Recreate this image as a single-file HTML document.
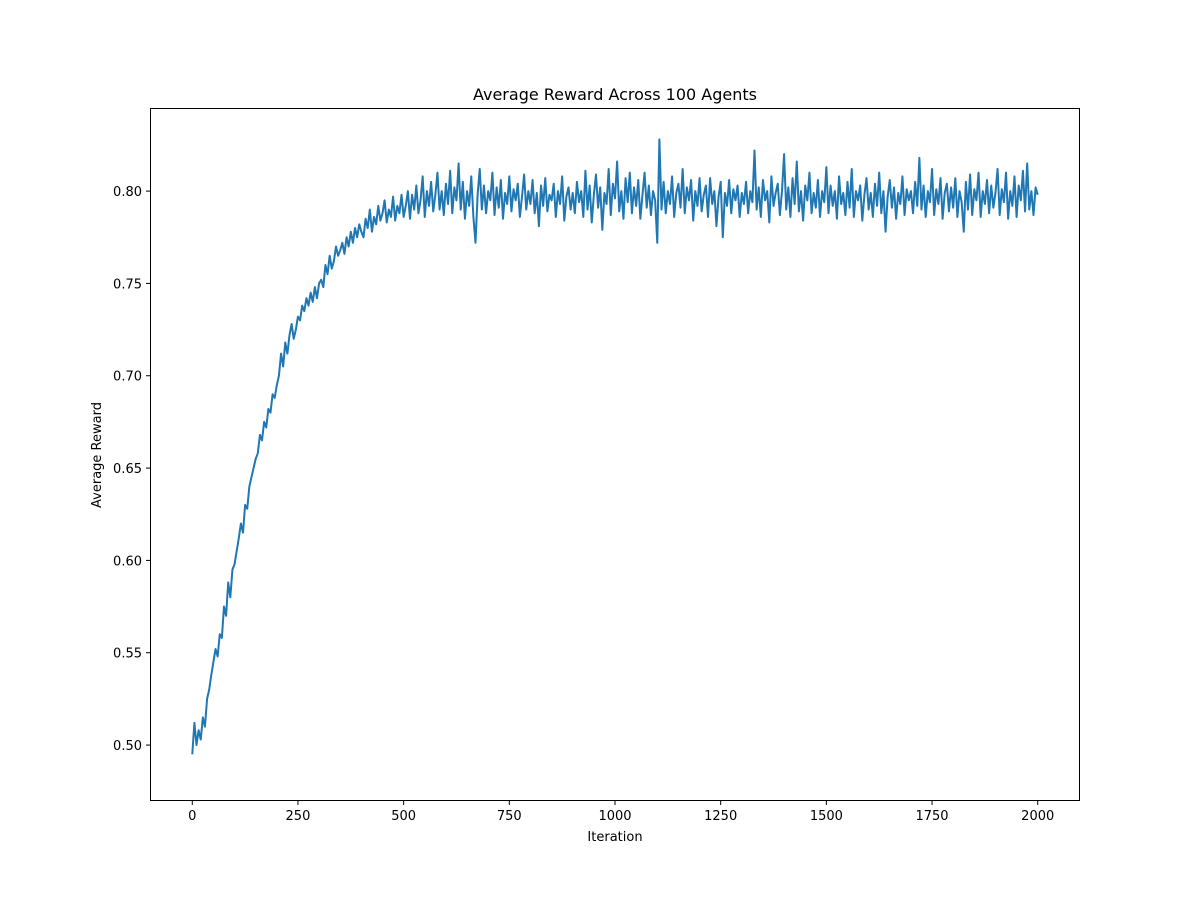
<!DOCTYPE html>
<html>
<head>
<meta charset="utf-8">
<style>
html,body{margin:0;padding:0;background:#fff;}
svg{display:block;font-family:"DejaVu Sans","Liberation Sans",sans-serif;}
</style>
</head>
<body>
<svg id="chart" width="1200" height="900" viewBox="0 0 1200 900" xmlns="http://www.w3.org/2000/svg">
<rect x="0" y="0" width="1200" height="900" fill="#fff"/>
<text x="615" y="100" font-size="16" text-anchor="middle">Average Reward Across 100 Agents</text>
<text x="615" y="841" font-size="13" text-anchor="middle">Iteration</text>
<text x="101" y="455" font-size="13" text-anchor="middle" transform="rotate(-90 101 455)">Average Reward</text>
<g id="xticks"></g>
<g id="yticks"></g>
<g id="plot"></g>
<rect x="150.5" y="108.5" width="929" height="692" fill="none" stroke="#000" stroke-width="1"/>
</svg>
<script>
const xTickValues = [0,250,500,750,1000,1250,1500,1750,2000];
const yTickValues = [0.50,0.55,0.60,0.65,0.70,0.75,0.80];
const yTickLabels = ["0.50","0.55","0.60","0.65","0.70","0.75","0.80"];
const iterationStep = 5;
const rewardValues = [
0.495,0.512,0.500,0.508,0.503,0.515,0.510,0.525,0.530,0.538,0.545,0.552,0.548,0.560,0.558,0.575,0.570,0.588,0.580,0.595,0.598,
0.605,0.612,0.620,0.615,0.630,0.628,0.640,0.645,0.650,0.655,0.658,0.668,0.665,0.675,0.672,0.682,0.680,0.690,0.688,0.695,
0.700,0.712,0.705,0.718,0.712,0.722,0.728,0.720,0.725,0.732,0.730,0.738,0.735,0.742,0.738,0.745,0.740,0.748,0.742,0.750,
0.752,0.748,0.760,0.755,0.765,0.758,0.762,0.770,0.765,0.768,0.772,0.766,0.775,0.770,0.778,0.772,0.780,0.775,0.782,0.778,
0.775,0.785,0.780,0.790,0.778,0.786,0.782,0.792,0.784,0.788,0.795,0.783,0.790,0.786,0.797,0.784,0.792,0.788,0.798,0.786,
0.792,0.800,0.785,0.798,0.790,0.803,0.788,0.795,0.808,0.786,0.800,0.792,0.805,0.789,0.798,0.810,0.790,0.800,0.787,0.804,
0.793,0.811,0.788,0.802,0.795,0.815,0.790,0.805,0.785,0.800,0.792,0.808,0.786,0.772,0.798,0.812,0.790,0.803,0.788,0.800,
0.795,0.810,0.787,0.802,0.791,0.806,0.785,0.799,0.793,0.808,0.789,0.801,0.795,0.804,0.786,0.797,0.809,0.790,0.800,0.793,
0.806,0.788,0.799,0.781,0.803,0.792,0.807,0.789,0.798,0.795,0.804,0.786,0.800,0.793,0.808,0.784,0.797,0.802,0.790,0.799,
0.788,0.805,0.794,0.800,0.786,0.811,0.790,0.803,0.783,0.798,0.809,0.791,0.802,0.779,0.799,0.793,0.812,0.787,0.804,0.796,
0.816,0.789,0.800,0.785,0.807,0.794,0.810,0.788,0.802,0.792,0.806,0.785,0.798,0.810,0.791,0.803,0.787,0.800,0.795,0.772,
0.828,0.790,0.805,0.788,0.800,0.793,0.808,0.786,0.799,0.804,0.791,0.812,0.788,0.802,0.795,0.806,0.784,0.800,0.792,0.807,
0.789,0.798,0.803,0.786,0.807,0.793,0.800,0.781,0.797,0.805,0.775,0.799,0.792,0.806,0.788,0.801,0.795,0.803,0.786,0.799,
0.793,0.805,0.788,0.800,0.794,0.822,0.790,0.802,0.786,0.806,0.795,0.800,0.783,0.808,0.792,0.799,0.804,0.787,0.800,0.820,
0.790,0.802,0.786,0.807,0.793,0.816,0.789,0.800,0.784,0.803,0.795,0.810,0.788,0.799,0.791,0.806,0.786,0.800,0.794,0.813,
0.788,0.803,0.792,0.800,0.785,0.808,0.793,0.799,0.787,0.805,0.791,0.812,0.786,0.800,0.795,0.803,0.784,0.798,0.807,0.790,
0.799,0.786,0.804,0.792,0.810,0.788,0.800,0.778,0.797,0.806,0.791,0.802,0.785,0.799,0.793,0.808,0.787,0.801,0.795,0.800,
0.788,0.805,0.792,0.818,0.790,0.803,0.786,0.800,0.794,0.812,0.787,0.801,0.793,0.807,0.785,0.799,0.804,0.789,0.802,0.791,
0.807,0.786,0.800,0.794,0.778,0.805,0.790,0.809,0.787,0.801,0.795,0.810,0.786,0.800,0.793,0.806,0.788,0.803,0.791,0.799,
0.812,0.787,0.801,0.794,0.810,0.785,0.800,0.792,0.808,0.786,0.803,0.795,0.811,0.789,0.815,0.790,0.800,0.787,0.802,0.798
];

const NS = "http://www.w3.org/2000/svg";
const L = 150, R = 1080, T = 108, B = 801;
const xMin = -100, xMax = 2100, yMin = 0.4697, yMax = 0.8450;
function xScale(v){ return L + (v - xMin) / (xMax - xMin) * (R - L); }
function yScale(v){ return B - (v - yMin) / (yMax - yMin) * (B - T); }

const xg = document.getElementById('xticks');
xTickValues.forEach(v => {
  const x = xScale(v);
  const t = document.createElementNS(NS, 'line');
  t.setAttribute('x1', x); t.setAttribute('x2', x);
  t.setAttribute('y1', B); t.setAttribute('y2', B + 4);
  t.setAttribute('stroke', '#000');
  
  
  xg.appendChild(t);
  const tx = document.createElementNS(NS, 'text');
  tx.setAttribute('x', x); tx.setAttribute('y', B + 19);
  tx.setAttribute('font-size', '13'); tx.setAttribute('text-anchor', 'middle');
  tx.textContent = String(v);
  
  
  xg.appendChild(tx);
});

const yg = document.getElementById('yticks');
yTickValues.forEach((v, i) => {
  const y = yScale(v);
  const t = document.createElementNS(NS, 'line');
  t.setAttribute('x1', L - 4); t.setAttribute('x2', L);
  t.setAttribute('y1', y); t.setAttribute('y2', y);
  t.setAttribute('stroke', '#000');
  
  
  yg.appendChild(t);
  const tx = document.createElementNS(NS, 'text');
  tx.setAttribute('x', L - 8); tx.setAttribute('y', y + 5);
  tx.setAttribute('font-size', '13'); tx.setAttribute('text-anchor', 'end');
  tx.textContent = yTickLabels[i];
  
  
  yg.appendChild(tx);
});

const pts = rewardValues.map((v, i) => xScale(i * iterationStep).toFixed(2) + ',' + yScale(v).toFixed(2)).join(' ');
const line = document.createElementNS(NS, 'polyline');
line.setAttribute('points', pts);
line.setAttribute('fill', 'none');
line.setAttribute('stroke', '#1f77b4');
line.setAttribute('stroke-width', '2');
line.setAttribute('stroke-linejoin', 'round');


document.getElementById('plot').appendChild(line);
</script>
</body>
</html>
